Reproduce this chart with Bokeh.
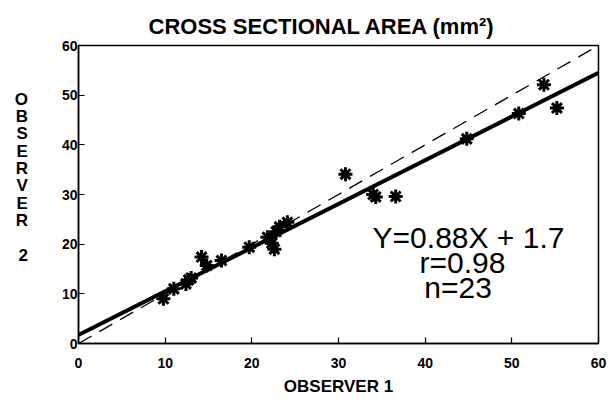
from bokeh.plotting import figure
from bokeh.models import Range1d, FixedTicker, ColumnDataSource
from bokeh.embed import file_html
from bokeh.resources import INLINE
from bokeh.core.properties import value

observer1 = [9.8, 11.0, 12.4, 12.7, 13.0, 14.2, 14.8, 16.5, 19.7, 21.8, 22.3, 22.6,
             22.8, 23.2, 24.1, 30.8, 34.0, 34.3, 36.6, 44.8, 50.8, 53.7, 55.2]
observer2 = [9.0, 11.0, 12.0, 12.8, 13.2, 17.4, 15.7, 16.7, 19.4, 21.4, 20.2, 19.0,
             22.5, 23.5, 24.4, 34.1, 30.0, 29.5, 29.6, 41.2, 46.3, 52.1, 47.4]
fit_slope = 0.88
fit_intercept = 1.7
line_x = [0, 60]
ticks = [0, 10, 20, 30, 40, 50, 60]
stats_text = ["Y=0.88X + 1.7", "r=0.98", "n=23"]
stats_x = [45.0, 44.3, 43.8]
stats_y = [21.3, 16.3, 11.3]

FONT = "Liberation Sans"

p = figure(frame_width=520, frame_height=298, min_border_left=78, min_border_right=12,
           min_border_top=45, min_border_bottom=50,
           x_range=Range1d(0, 60), y_range=Range1d(0, 60),
           output_backend="svg", toolbar_location=None,
           title="CROSS SECTIONAL AREA (mm²)")

p.title.text_font = FONT
p.title.text_font_size = "22px"
p.title.text_font_style = "bold"
p.title.align = "left"
p.title.offset = 70
p.title.vertical_align = "top"
p.title.text_color = "black"

p.grid.visible = False
p.outline_line_color = "black"
p.outline_line_width = 1.5
p.background_fill_color = "white"
p.border_fill_color = "white"

for ax in (p.xaxis[0], p.yaxis[0]):
    ax.ticker = FixedTicker(ticks=ticks)
    ax.minor_tick_line_color = None
    ax.major_tick_in = 6
    ax.major_tick_out = 0
    ax.major_tick_line_color = "black"
    ax.major_tick_line_width = 1.2
    ax.axis_line_color = "black"
    ax.axis_line_width = 1.5
    ax.major_label_text_font = FONT
    ax.major_label_text_font_style = "bold"
    ax.major_label_text_font_size = "14px"
    ax.major_label_text_color = "black"
    ax.axis_label_text_font = FONT
    ax.axis_label_text_font_style = "bold"
    ax.axis_label_text_color = "black"

p.xaxis.axis_label = "OBSERVER 1"
p.xaxis.axis_label_text_font_size = "17px"
p.xaxis.major_label_standoff = 14
p.xaxis.axis_label_standoff = 6

p.yaxis.axis_label = "O\nB\nS\nE\nR\nV\nE\nR\n\n2\n\n"
p.yaxis.axis_label_orientation = "horizontal"
p.yaxis.axis_label_text_font_size = "17px"
p.yaxis.axis_label_text_line_height = 0.91
p.yaxis.major_label_standoff = 1
p.yaxis.axis_label_standoff = 31

# identity line
p.line(line_x, line_x, line_color="black", line_width=1.3, line_dash="15 9")
# regression line
fit_y = [fit_slope * v + fit_intercept for v in line_x]
p.line(line_x, fit_y, line_color="black", line_width=4)

src = ColumnDataSource(dict(x=observer1, y=observer2))
p.scatter("x", "y", source=src, marker="asterisk", size=14, line_color="black",
          line_width=3)

tsrc = ColumnDataSource(dict(x=stats_x, y=stats_y, t=stats_text))
p.text("x", "y", text="t", source=tsrc, text_font=value(FONT), text_font_size="30px",
       text_align="center", text_baseline="middle", text_color="black")

open("out.html", "w").write(file_html(p, INLINE))
